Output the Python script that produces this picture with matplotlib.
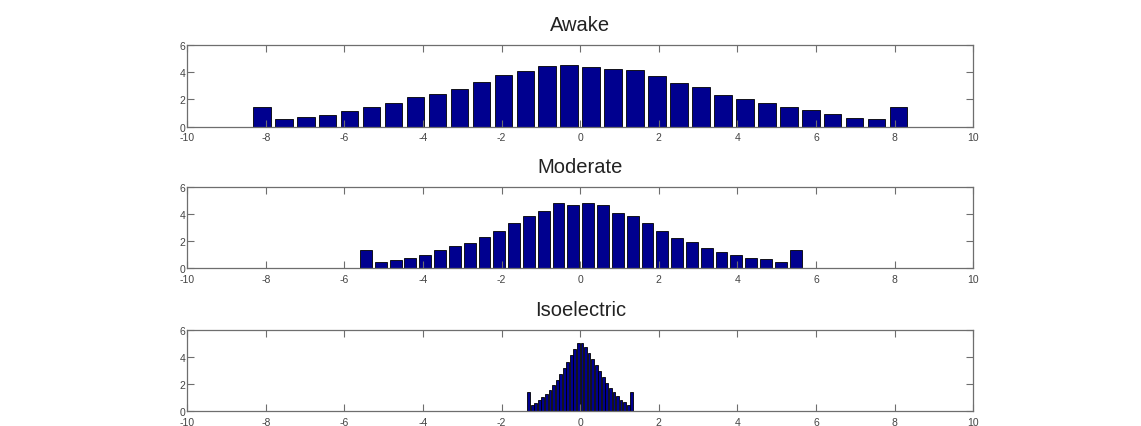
import numpy as np
import matplotlib
matplotlib.use('Agg')
import matplotlib.pyplot as plt

# bar heights (30 bins per panel)
awake = [1.43, 0.58, 0.70, 0.87, 1.17, 1.41, 1.77, 2.16, 2.42, 2.81,
         3.27, 3.83, 4.07, 4.48, 4.53, 4.41, 4.27, 4.19, 3.73, 3.22,
         2.93, 2.35, 2.01, 1.77, 1.43, 1.19, 0.95, 0.63, 0.56, 1.43]
moderate = [1.38, 0.44, 0.59, 0.79, 0.96, 1.33, 1.65, 1.88, 2.35, 2.79,
            3.36, 3.88, 4.27, 4.81, 4.69, 4.81, 4.69, 4.12, 3.88, 3.38,
            2.79, 2.27, 1.95, 1.53, 1.19, 0.99, 0.79, 0.67, 0.44, 1.36]
isoelectric = [1.43, 0.44, 0.60, 0.80, 1.02, 1.28, 1.58, 1.92, 2.30, 2.72,
               3.17, 3.65, 4.15, 4.60, 5.00, 5.05, 4.70, 4.30, 3.85, 3.40,
               2.95, 2.50, 2.10, 1.72, 1.40, 1.10, 0.85, 0.65, 0.45, 1.43]

# first and last bin centre of each histogram
awake_range = (-8.1, 8.1)
moderate_range = (-5.45, 5.48)
iso_range = (-1.31, 1.31)

titles = ['Awake', 'Moderate', 'Isoelectric']
xticks = [-10, -8, -6, -4, -2, 0, 2, 4, 6, 8, 10]
yticks = [0, 2, 4, 6]

plt.rcParams['font.family'] = ['Liberation Sans', 'DejaVu Sans']
plt.rcParams['axes.unicode_minus'] = False

fig = plt.figure(figsize=(11.41, 4.27), dpi=100)
bottoms = [0.7014, 0.3693, 0.0351]
gray = '#6e6e6e'

panels = [(awake, awake_range), (moderate, moderate_range), (isoelectric, iso_range)]
for (heights, rng), title, b in zip(panels, titles, bottoms):
    ax = fig.add_axes([0.164, b, 0.689, 0.19])
    centers = np.linspace(rng[0], rng[1], len(heights))
    step = centers[1] - centers[0]
    ax.bar(centers, heights, width=0.8 * step, color='#00008F',
           edgecolor='black', linewidth=0.6)
    ax.set_xlim(-10, 10)
    ax.set_ylim(0, 6)
    ax.set_xticks(xticks)
    ax.set_yticks(yticks)
    ax.tick_params(direction='in', length=5, width=0.8, colors=gray,
                   labelsize=7.5, labelcolor='#444444',
                   top=True, right=True)
    ax.tick_params(axis='x', pad=4)
    ax.tick_params(axis='y', pad=1)
    for s in ax.spines.values():
        s.set_color(gray)
        s.set_linewidth(0.9)
    ax.set_title(title, fontsize=14.5, color='#222222', pad=11)

fig.savefig('out.png', dpi=100)
